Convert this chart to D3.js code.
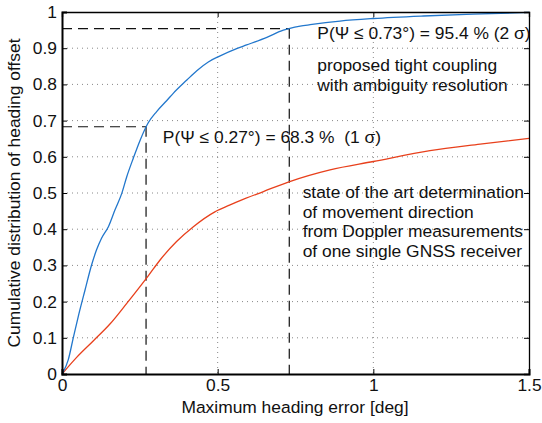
<!DOCTYPE html>
<html><head><meta charset="utf-8">
<script src="https://cdn.jsdelivr.net/npm/d3@7"></script>
<style>body{margin:0;background:#fff}svg{display:block}text{font-family:"Liberation Sans",Arial,sans-serif;fill:#111}</style>
</head><body><svg id="c" width="542" height="423"></svg>
<script>
const blueX = [0,0.004,0.02,0.036,0.052,0.074,0.095,0.111,0.127,0.149,0.170,0.192,0.208,0.229,0.251,0.277,0.304,0.336,0.358,0.401,0.433,0.47,0.508,0.561,0.593,0.658,0.711,0.732,0.765,0.797,0.893,1.0,1.161,1.321,1.5];
const blueY = [0,0.006,0.039,0.099,0.158,0.232,0.301,0.343,0.375,0.407,0.453,0.499,0.545,0.596,0.646,0.694,0.725,0.755,0.776,0.812,0.838,0.862,0.879,0.899,0.909,0.93,0.95,0.955,0.961,0.965,0.975,0.982,0.989,0.994,0.999];
const redX = [0,0.047,0.101,0.154,0.208,0.277,0.315,0.368,0.422,0.491,0.54,0.572,0.647,0.729,0.861,1.0,1.182,1.343,1.5];
const redY = [0,0.046,0.092,0.138,0.195,0.271,0.315,0.366,0.407,0.448,0.467,0.479,0.504,0.531,0.564,0.587,0.617,0.635,0.651];
const xTicks = [0,0.5,1,1.5];
const xTickLabels = ["0","0.5","1","1.5"];
const yTicks = [0,0.1,0.2,0.3,0.4,0.5,0.6,0.7,0.8,0.9,1];
const yTickLabels = ["0","0.1","0.2","0.3","0.4","0.5","0.6","0.7","0.8","0.9","1"];
const markers = [{x:0.27,y:0.683},{x:0.73,y:0.954}];
const annotations = [
  {x:0.82,y:0.925,lines:["P(\u03A8 \u2264 0.73\u00B0) = 95.4 % (2 \u03C3)"]},
  {x:0.82,y:0.837,lines:["proposed tight coupling","with ambiguity resolution"]},
  {x:0.324,y:0.637,lines:["P(\u03A8 \u2264 0.27\u00B0) = 68.3 %\u00A0 (1 \u03C3)"]},
  {x:0.773,y:0.486,lines:["state of the art determination","of movement direction","from Doppler measurements","of one single GNSS receiver"]}
];
const xLabel = "Maximum heading error [deg]";
const yLabel = "Cumulative distribution of heading offset";

const svg = d3.select("#c");
const L=62,R=529,T=12,B=374;
const x = d3.scaleLinear().domain([0,1.5]).range([L,R]);
const y = d3.scaleLinear().domain([0,1]).range([B,T]);
const fs = 17.4;

// grid
const g = svg.append("g");
g.selectAll(".gy").data(yTicks.slice(1,-1)).enter().append("line")
  .attr("x1",L).attr("x2",R).attr("y1",d=>y(d)).attr("y2",d=>y(d))
  .attr("stroke","#888").attr("stroke-width",1).attr("stroke-dasharray","1,4");
g.selectAll(".gx").data(xTicks.slice(1,-1)).enter().append("line")
  .attr("y1",T).attr("y2",B).attr("x1",d=>x(d)).attr("x2",d=>x(d))
  .attr("stroke","#888").attr("stroke-width",1).attr("stroke-dasharray","1,4");

// dashed markers
markers.forEach(m=>{
  svg.append("line").attr("x1",x(0)).attr("x2",x(m.x)).attr("y1",y(m.y)).attr("y2",y(m.y))
    .attr("stroke","#111").attr("stroke-width",1.2).attr("stroke-dasharray","10,6");
  svg.append("line").attr("x1",x(m.x)).attr("x2",x(m.x)).attr("y1",y(m.y)).attr("y2",y(0))
    .attr("stroke","#111").attr("stroke-width",1.2).attr("stroke-dasharray","10,6");
});

// curves
const line = d3.line().x(d=>x(d[0])).y(d=>y(d[1])).curve(d3.curveMonotoneX);
svg.append("path").datum(redX.map((v,i)=>[v,redY[i]])).attr("d",line)
  .attr("fill","none").attr("stroke","#e8401c").attr("stroke-width",1.3);
svg.append("path").datum(blueX.map((v,i)=>[v,blueY[i]])).attr("d",line)
  .attr("fill","none").attr("stroke","#2277cc").attr("stroke-width",1.3);

// axes
const axB = svg.append("g").attr("transform",`translate(0,${B})`)
  .call(d3.axisBottom(x).tickValues(xTicks).tickFormat((d,i)=>xTickLabels[i]).tickSize(-5).tickPadding(5));
const axL = svg.append("g").attr("transform",`translate(${L},0)`)
  .call(d3.axisLeft(y).tickValues(yTicks).tickFormat((d,i)=>yTickLabels[i]).tickSize(-5).tickPadding(5));
const axT = svg.append("g").attr("transform",`translate(0,${T})`)
  .call(d3.axisTop(x).tickValues(xTicks).tickFormat("").tickSize(-5));
const axR = svg.append("g").attr("transform",`translate(${R},0)`)
  .call(d3.axisRight(y).tickValues(yTicks).tickFormat("").tickSize(-5));
[axB,axL,axT,axR].forEach(a=>{a.select(".domain").attr("stroke","#000");a.selectAll(".tick line").attr("stroke","#000");
  a.selectAll("text").attr("font-size",fs).attr("font-family","Liberation Sans, Arial, sans-serif").attr("fill","#111");});
axB.select(".domain").attr("stroke-width",2);
axL.select(".domain").attr("stroke-width",2);
axT.select(".domain").attr("stroke-width",1.3);
axR.select(".domain").attr("stroke-width",1.3);

// annotations
annotations.forEach(a=>{
  const t = svg.append("text").attr("font-size",fs).attr("x",x(a.x)).attr("y",y(a.y));
  a.lines.forEach((s,i)=>t.append("tspan").attr("x",x(a.x)).attr("dy",i?19.5:0).text(s));
});

// labels
svg.append("text").attr("x",295).attr("y",413).attr("text-anchor","middle").attr("font-size",fs).text(xLabel);
svg.append("text").attr("transform",`translate(20,${(T+B)/2}) rotate(-90)`).attr("text-anchor","middle").attr("font-size",fs).text(yLabel);
</script></body></html>
